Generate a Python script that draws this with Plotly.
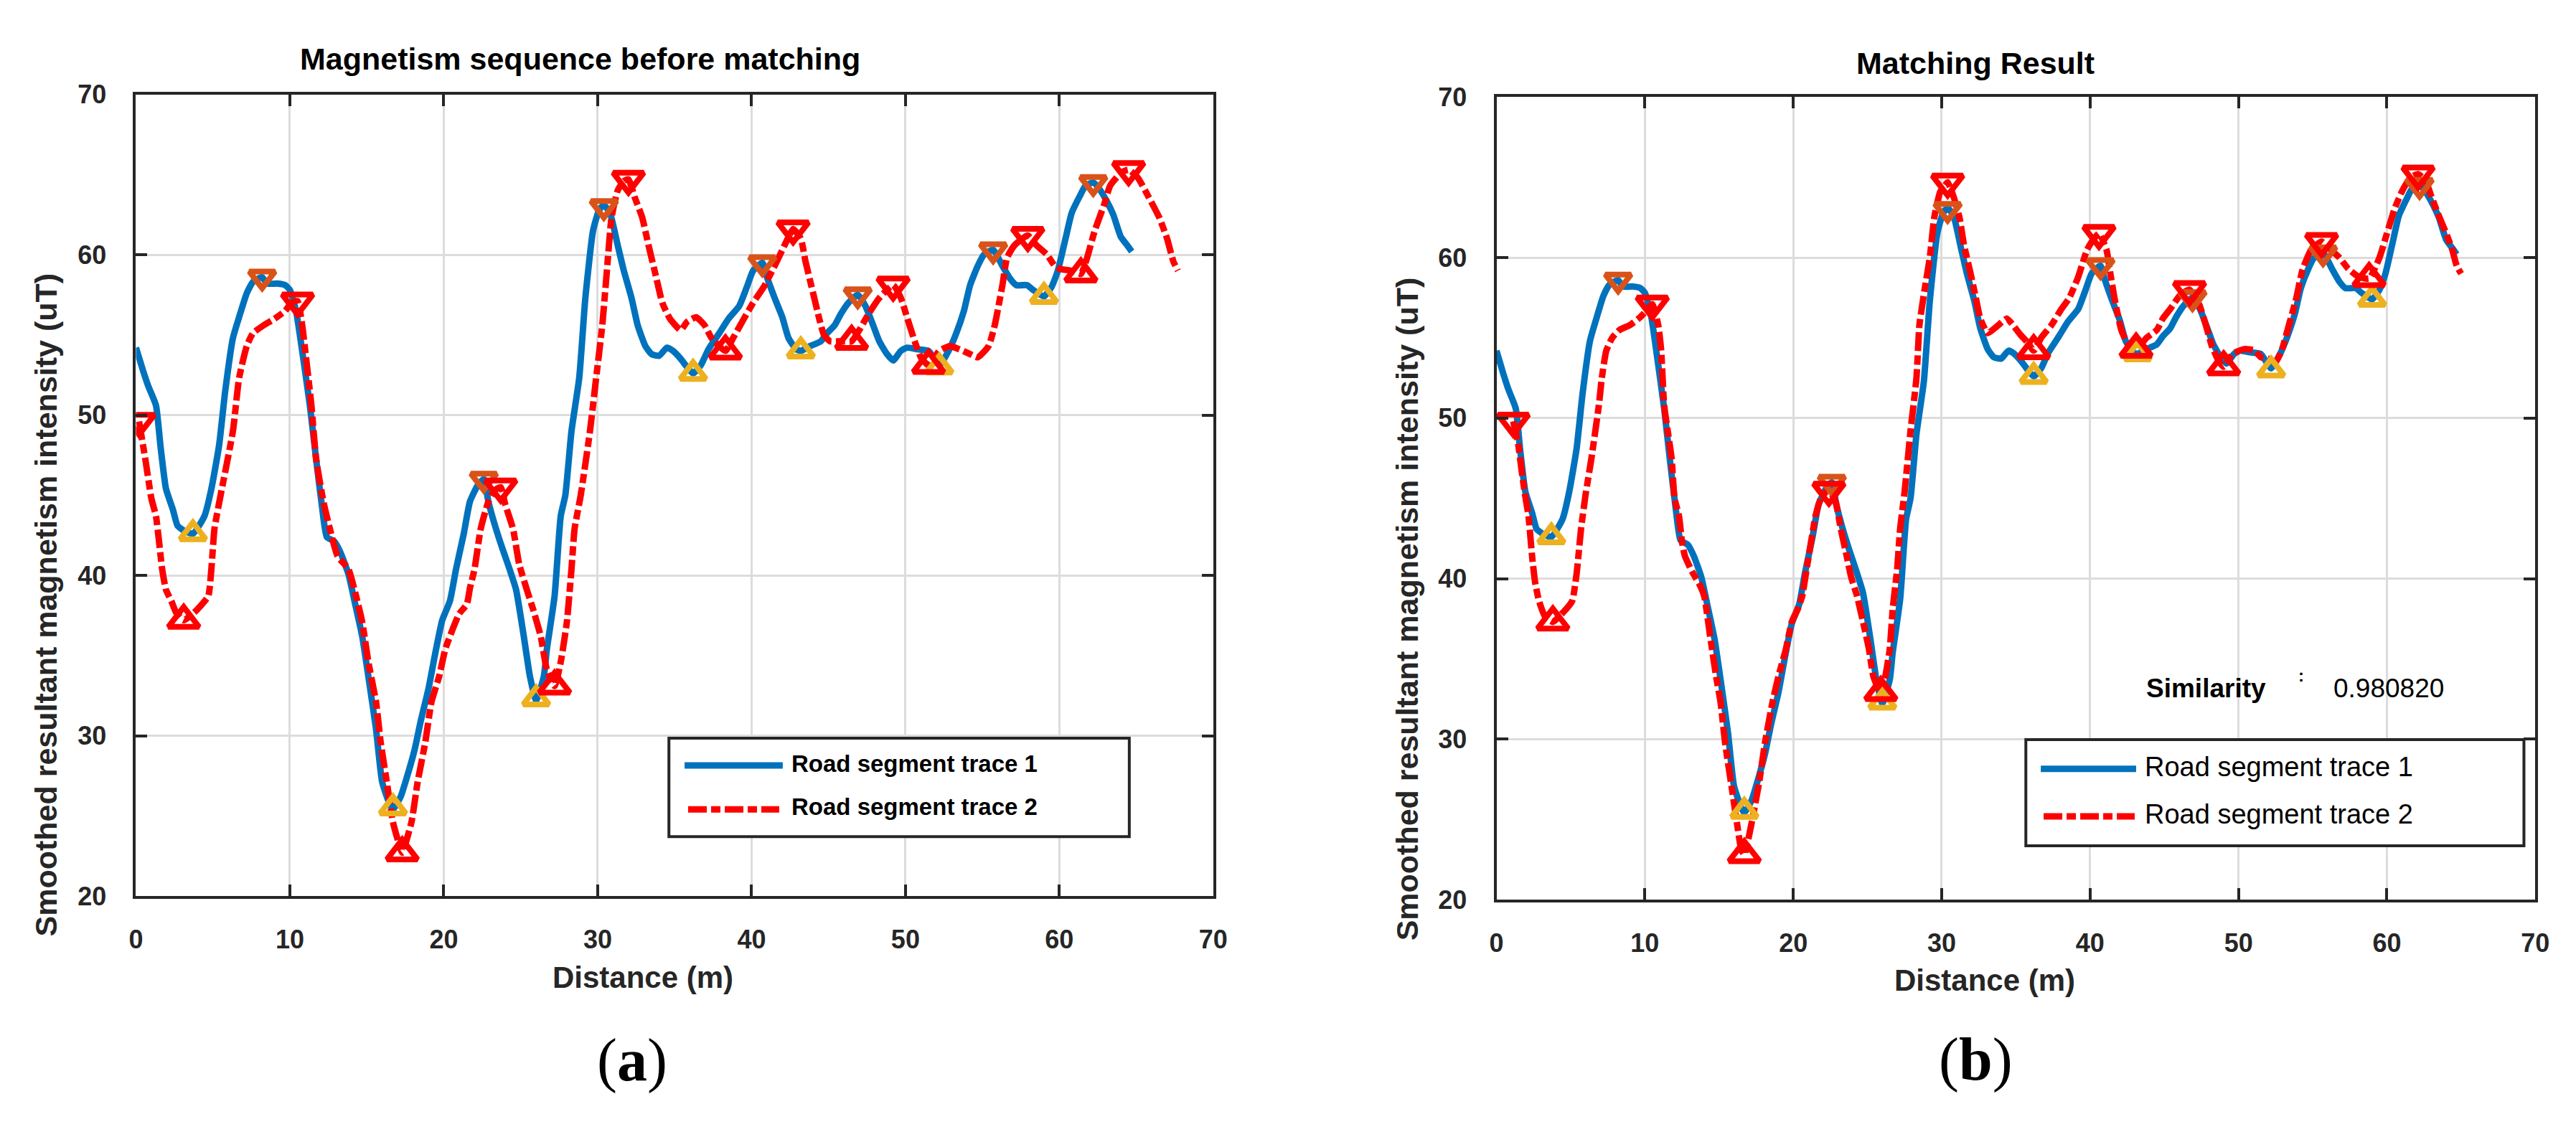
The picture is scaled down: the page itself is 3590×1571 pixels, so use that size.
import plotly.graph_objects as go

# --- data ---------------------------------------------------------------
# road segment trace 1 (same in both panels)
t1_x = [0, 0.45, 0.8, 1.3, 1.6, 1.95, 2.4, 2.7, 3.1, 3.7, 4.45, 4.9, 5.4, 5.8, 6.3, 6.7,
        7.2, 7.6, 8.2, 8.5, 9.2, 9.7, 10.0, 10.4, 10.8, 11.3, 11.7, 12.1, 12.4, 12.9,
        13.3, 13.8, 14.2, 14.7, 15.1, 15.6, 16.0, 16.5, 16.7, 17.2, 17.6, 18.1, 18.5,
        19.0, 19.5, 19.9, 20.4, 20.8, 21.3, 21.7, 22.2, 22.6, 22.9, 23.3, 23.8, 24.2,
        24.7, 25.2, 25.6, 26.0, 26.5, 26.7, 27.2, 27.6, 27.9, 28.3, 28.8, 29.2, 29.7,
        30.1, 30.4, 30.8, 31.3, 31.7, 32.2, 32.6, 33.1, 33.5, 34.0, 34.5, 34.9, 35.4,
        35.8, 36.2, 36.7, 37.2, 37.9, 38.5, 39.2, 39.7, 40.1, 40.7, 41.0, 41.5, 42.0,
        42.4, 42.9, 43.2, 43.8, 44.5, 44.9, 45.4, 45.8, 46.3, 46.9, 47.4, 47.9, 48.3,
        48.8, 49.2, 49.7, 50.1, 50.8, 51.5, 52.2, 52.8, 53.3, 53.8, 54.2, 54.7, 55.1,
        55.7, 56.3, 56.8, 57.2, 57.9, 58.3, 59.0, 59.5, 59.9, 60.4, 60.8, 61.3, 61.7,
        62.2, 62.6, 63.1, 63.5, 64.0, 64.4, 64.7]
t1_y = [54.2, 52.8, 51.8, 50.6, 48.0, 45.4, 44.1, 43.1, 42.8, 42.6, 43.7, 45.4, 48.1, 51.5,
        54.8, 56.1, 57.6, 58.3, 58.6, 58.2, 58.2, 58.1, 57.8, 56.5, 54.0, 50.6, 47.3,
        44.2, 42.4, 42.1, 41.4, 40.1, 38.4, 36.2, 33.7, 30.4, 27.1, 25.7, 25.4, 26.2,
        27.4, 29.1, 30.9, 32.9, 35.4, 37.2, 38.4, 40.4, 42.6, 44.6, 45.6, 46.0, 44.6,
        43.2, 41.7, 40.6, 39.1, 36.2, 33.7, 32.2, 33.7, 35.4, 38.7, 43.7, 45.0, 49.0,
        52.3, 57.3, 61.5, 62.8, 63.1, 62.6, 60.6, 59.0, 57.3, 55.6, 54.3, 53.8, 53.7,
        54.2, 54.0, 53.5, 53.0, 52.6, 53.1, 54.1, 55.1, 56.0, 56.8, 58.0, 59.0, 59.5,
        58.6, 57.3, 56.1, 54.8, 54.1, 54.0, 54.3, 54.6, 55.1, 55.6, 56.3, 57.0, 57.5,
        56.8, 55.6, 54.6, 53.8, 53.4, 54.0, 54.2, 54.1, 54.0, 53.1, 54.0, 55.1, 56.5,
        58.1, 59.3, 60.0, 60.3, 59.3, 58.5, 58.1, 58.1, 57.8, 57.4, 58.0, 59.0, 61.0,
        62.6, 63.6, 64.3, 64.5, 64.1, 63.3, 62.5, 61.1, 60.6, 60.2]

# road segment trace 2, before matching (panel a)
t2a_x = [0.2, 0.6, 1.0, 1.3, 1.5, 1.7, 1.95, 2.3, 2.6, 3.1, 3.8, 4.2, 4.7, 4.9, 5.1, 5.5,
         6.3, 6.7, 7.2, 7.6, 8.3, 9.0, 9.7, 10.1, 10.5, 10.8, 11.0, 11.4, 11.7, 12.2,
         12.6, 13.1, 13.8, 14.2, 14.7, 15.1, 15.6, 15.9, 16.3, 16.7, 17.2, 17.3, 17.9,
         18.3, 18.8, 19.2, 19.7, 20.1, 20.6, 21.0, 21.5, 21.7, 22.0, 22.4, 22.9, 23.3,
         23.7, 24.0, 24.5, 24.9, 25.4, 25.8, 26.3, 26.7, 27.2, 27.6, 28.0, 28.3, 28.5,
         28.9, 29.5, 29.9, 30.3, 30.6, 30.9, 31.3, 31.7, 32.0, 32.4, 32.9, 33.3, 33.8,
         34.2, 34.7, 35.4, 35.8, 36.4, 36.95, 37.4, 38.3, 38.8, 39.5, 40.1, 40.8, 41.5,
         42.0, 42.4, 42.7, 43.2, 43.5, 44.0, 44.4, 44.7, 45.1, 45.8, 46.5, 47.0, 47.6,
         48.3, 49.2, 49.7, 50.1, 50.6, 51.0, 51.5, 52.2, 52.9, 53.5, 54.2, 54.7, 55.4,
         55.8, 56.3, 56.6, 57.1, 57.95, 58.5, 59.2, 59.7, 60.1, 60.8, 61.4, 61.8, 62.3,
         62.9, 63.3, 64.0, 64.5, 65.1, 65.8, 66.5, 67.0, 67.4, 67.7]
t2a_y = [49.6, 47.3, 44.8, 43.7, 42.1, 40.4, 39.1, 38.4, 37.7, 37.2, 37.7, 38.1, 38.7, 40.4,
         42.9, 45.0, 49.0, 52.3, 54.3, 55.1, 55.6, 56.0, 56.5, 57.0, 57.1, 55.6, 54.0,
         50.6, 47.3, 44.5, 42.9, 41.2, 40.4, 39.1, 37.1, 34.6, 32.1, 29.6, 27.1, 24.6,
         22.9, 22.7, 24.6, 27.1, 29.6, 32.1, 33.7, 35.4, 36.7, 37.6, 38.2, 39.2, 40.4,
         42.9, 44.6, 45.3, 45.5, 44.4, 42.9, 40.7, 39.1, 37.9, 36.2, 34.1, 33.1, 34.6,
         37.1, 40.4, 42.9, 45.0, 49.0, 52.3, 55.6, 59.0, 62.3, 64.0, 64.6, 64.7, 63.6,
         62.3, 60.6, 58.6, 57.0, 56.0, 55.3, 55.8, 56.1, 55.6, 54.8, 54.0, 54.8, 56.0,
         57.0, 58.0, 59.3, 60.3, 61.1, 61.6, 61.0, 59.6, 57.6, 56.0, 55.0, 54.6, 54.6,
         54.6, 55.3, 56.3, 57.3, 58.1, 57.3, 56.1, 54.6, 53.6, 53.1, 54.0, 54.3, 54.1,
         53.8, 53.6, 54.3, 55.6, 58.1, 59.8, 60.6, 61.2, 60.6, 60.0, 59.3, 59.1, 59.0,
         58.8, 59.8, 61.5, 63.1, 64.3, 65.1, 65.3, 64.8, 63.6, 62.3, 61.0, 59.6, 59.0]

# road segment trace 2, after matching (panel b)
t2b_x = [1.13, 1.46, 1.7, 1.93, 2.16, 2.4, 2.6, 2.87, 3.3, 3.8, 4.5, 5.1, 5.4, 5.7, 6.0,
         6.4, 6.9, 7.1, 7.4, 7.8, 8.3, 9.0, 9.7, 10.2, 10.5, 10.9, 11.1, 11.3, 11.8,
         12.0, 12.3, 12.5, 12.7, 13.2, 13.7, 14.0, 14.4, 14.8, 15.1, 15.4, 15.8, 16.2,
         16.5, 16.7, 17.2, 17.7, 18.1, 18.6, 19.0, 19.5, 19.9, 20.3, 20.6, 20.9, 21.2,
         21.5, 21.9, 22.4, 22.85, 23.2, 23.6, 23.9, 24.3, 24.7, 25.1, 25.4, 25.9, 26.2,
         26.5, 26.7, 27.0, 27.2, 27.5, 27.9, 28.3, 28.5, 28.9, 29.2, 29.5, 29.9, 30.3,
         30.4, 30.8, 31.2, 31.5, 31.9, 32.3, 32.6, 33.1, 33.7, 34.4, 34.8, 35.3, 35.8,
         36.2, 36.7, 37.4, 38.0, 38.6, 39.2, 39.8, 40.2, 40.6, 41.1, 41.4, 41.7, 42.1,
         42.5, 43.1, 43.8, 44.5, 44.9, 45.4, 46.1, 46.7, 47.3, 47.8, 48.2, 48.7, 49.0,
         49.6, 50.4, 51.1, 51.5, 52.0, 52.5, 52.9, 53.4, 53.9, 54.3, 54.9, 55.6, 56.2,
         56.8, 57.4, 58.1, 58.8, 59.5, 60.0, 60.5, 61.0, 61.6, 62.1, 62.6, 63.0, 63.5,
         64.0, 64.4, 64.7, 65.0]
t2b_y = [49.8, 48.4, 46.7, 45.2, 43.9, 41.4, 39.8, 38.6, 37.6, 37.3, 37.9, 38.6, 40.3, 43.1,
         45.2, 47.5, 50.8, 52.5, 54.2, 55.0, 55.5, 55.8, 56.3, 56.8, 57.1, 55.8, 54.2,
         50.8, 47.5, 45.0, 43.9, 42.3, 41.4, 40.4, 39.6, 38.9, 36.4, 33.9, 32.3, 29.8,
         27.3, 24.8, 23.1, 22.8, 24.8, 27.3, 29.8, 32.3, 33.9, 35.6, 37.3, 38.1, 38.9,
         40.6, 42.3, 43.9, 45.1, 45.5, 44.8, 43.1, 41.4, 40.1, 38.9, 37.3, 35.6, 33.9,
         32.9, 33.9, 35.6, 38.1, 40.6, 43.1, 45.4, 49.2, 52.5, 55.8, 58.3, 60.0, 62.5,
         64.1, 64.6, 64.7, 63.8, 62.5, 60.8, 59.2, 57.5, 56.2, 55.3, 55.7, 56.2, 55.8,
         55.2, 54.7, 54.2, 55.0, 55.8, 56.7, 57.5, 58.8, 60.5, 61.1, 61.5, 60.5, 58.8,
         57.2, 55.5, 54.7, 54.3, 55.0, 55.5, 56.2, 56.8, 57.7, 58.0, 57.2, 55.8, 54.5,
         53.5, 53.2, 54.0, 54.3, 54.2, 53.8, 53.7, 53.5, 54.2, 55.8, 57.5, 59.2, 60.5,
         61.0, 60.5, 60.0, 59.3, 58.8, 58.7, 60.0, 61.5, 63.0, 64.1, 65.0, 65.2, 64.8,
         63.8, 62.6, 61.5, 60.5, 59.5, 59.0]

# detected peaks / valleys
t1_peak_x = [8.2, 22.6, 30.4, 40.7, 46.9, 55.7, 62.2]
t1_peak_y = [58.6, 46.0, 63.0, 59.5, 57.5, 60.3, 64.5]
t1_val_x = [3.7, 16.7, 26.0, 36.2, 43.2, 52.2, 59.0]
t1_val_y = [42.6, 25.5, 32.3, 52.6, 54.0, 53.0, 57.4]

t2a_peak_x = [0.2, 10.5, 23.7, 32.0, 42.7, 49.2, 57.95, 64.5]
t2a_peak_y = [49.6, 57.1, 45.5, 64.7, 61.6, 58.1, 61.2, 65.3]
t2a_val_x = [3.1, 17.3, 27.2, 38.3, 46.5, 51.5, 61.4]
t2a_val_y = [37.2, 22.7, 33.1, 54.0, 54.6, 53.1, 58.8]

t2b_peak_x = [1.13, 10.5, 22.4, 30.4, 40.6, 46.7, 55.6, 62.1]
t2b_peak_y = [49.8, 57.1, 45.5, 64.7, 61.5, 58.0, 61.0, 65.2]
t2b_val_x = [3.8, 16.7, 25.9, 36.2, 43.1, 49.0, 58.8]
t2b_val_y = [37.3, 22.8, 32.9, 54.2, 54.3, 53.2, 58.7]

x_ticks = [0, 10, 20, 30, 40, 50, 60, 70]
y_ticks = [20, 30, 40, 50, 60, 70]
similarity = 0.980820

# --- styling ---------------------------------------------------------------
W, H = 3590, 1571
BLUE, RED, ORANGE, YELLOW = '#0072BD', '#FF0000', '#D95319', '#EDB120'
INK = '#262626'
SANS = 'Liberation Sans, Arial, sans-serif'
SERIF = 'Liberation Serif, Times New Roman, serif'
RED_DASH = '26px,6px,13px,6px'
LW = 9


def px(x):
    return x / W


def py(y):
    return 1 - y / H


fig = go.Figure()

panels = [('x', 'y', t2a_x, t2a_y, t2a_peak_x, t2a_peak_y, t2a_val_x, t2a_val_y),
          ('x2', 'y2', t2b_x, t2b_y, t2b_peak_x, t2b_peak_y, t2b_val_x, t2b_val_y)]

for xa, ya, bx, by, pkx, pky, vlx, vly in panels:
    fig.add_trace(go.Scatter(x=t1_x, y=t1_y, mode='lines', xaxis=xa, yaxis=ya,
                             line=dict(color=BLUE, width=LW, shape='spline', smoothing=0.5),
                             showlegend=False))
    fig.add_trace(go.Scatter(x=bx, y=by, mode='lines', xaxis=xa, yaxis=ya,
                             line=dict(color=RED, width=LW, dash=RED_DASH, shape='spline',
                                       smoothing=0.5),
                             showlegend=False))
    # markers: open triangles with heavy outlines
    for mx, my, sym, size, col in [(t1_peak_x, t1_peak_y, 'triangle-down-open', 31, ORANGE),
                                   (t1_val_x, t1_val_y, 'triangle-up-open', 31, YELLOW),
                                   (pkx, pky, 'triangle-down-open', 37, RED),
                                   (vlx, vly, 'triangle-up-open', 37, RED)]:
        fig.add_trace(go.Scatter(x=mx, y=my, mode='markers', xaxis=xa, yaxis=ya,
                                 marker=dict(symbol=sym, size=size, color=col,
                                             line=dict(width=8, color=col)),
                                 showlegend=False))

axis_common = dict(showline=True, linecolor=INK, linewidth=4, mirror='ticks',
                   ticks='inside', ticklen=16, tickwidth=4, tickcolor=INK,
                   showgrid=True, gridcolor='#DCDCDC', gridwidth=3, zeroline=False,
                   tickfont=dict(family=SANS, size=36, color=INK, weight='bold'))

fig.update_layout(
    width=W, height=H,
    margin=dict(l=0, r=0, t=0, b=0),
    paper_bgcolor='white', plot_bgcolor='white',
    showlegend=False,
    xaxis=dict(domain=[px(181), px(1695)], range=[0, 70], tickvals=x_ticks,
               anchor='y', ticklabelstandoff=26, **axis_common),
    yaxis=dict(domain=[py(1262), py(114.5)], range=[20, 70], tickvals=y_ticks,
               anchor='x', ticklabelstandoff=30, **axis_common),
    xaxis2=dict(domain=[px(2093), px(3553)], range=[0, 70], tickvals=x_ticks,
                anchor='y2', ticklabelstandoff=26, **axis_common),
    yaxis2=dict(domain=[py(1267), py(118.5)], range=[20, 70], tickvals=y_ticks,
                anchor='x2', ticklabelstandoff=30, **axis_common),
)


def label(text, x, y, size, weight='bold', family=SANS, angle=0, xanchor='center',
          color=INK):
    fig.add_annotation(text=text, x=px(x), y=py(y), xref='paper', yref='paper',
                       showarrow=False, textangle=angle, xanchor=xanchor, yanchor='middle',
                       font=dict(family=family, size=size, color=color, weight=weight))


# titles, axis titles, panel tags
label('Magnetism sequence before matching', 805, 64, 43, color='black')
label('Matching Result', 2766, 69.5, 43, color='black')
label('Distance (m)', 893, 1378, 42)
label('Distance (m)', 2779, 1383, 42)
label('Smoothed resultant magnetism intensity (uT)', 54, 845, 43, angle=-90)
label('Smoothed resultant magnetism intensity (uT)', 1967, 851, 43, angle=-90)
label('(<b>a</b>)', 878, 1497, 84, weight='normal', family=SERIF, color='black')
label('(<b>b</b>)', 2767, 1496, 84, weight='normal', family=SERIF, color='black')

# similarity readout
label('Similarity', 3004, 965, 37, weight='bold', xanchor='left', color='black')
label(':', 3224, 946, 24, weight='bold', color='black')
label(f'{similarity:.6f}', 3267, 965, 37, weight='normal', xanchor='left', color='black')

# hand-placed legend boxes (MATLAB style)
legends = [
    dict(box=(930, 1036, 1577, 1177), blue=(952, 1090, 1075), red=(957, 1085, 1138),
         tx=1100, ty=(1072, 1134.5), size=33, weight='bold'),
    dict(box=(2837, 1038, 3537, 1190), blue=(2858, 2992, 1080), red=(2862, 2990, 1148),
         tx=3002, ty=(1077, 1145), size=38, weight='normal'),
]
for lg in legends:
    x0, y0, x1, y1 = lg['box']
    fig.add_shape(type='rect', xref='paper', yref='paper', x0=px(x0), y0=py(y0),
                  x1=px(x1), y1=py(y1), line=dict(color=INK, width=4),
                  fillcolor='white', layer='above')
    bx0, bx1, by_ = lg['blue']
    fig.add_shape(type='line', xref='paper', yref='paper', x0=px(bx0), x1=px(bx1),
                  y0=py(by_), y1=py(by_), line=dict(color=BLUE, width=LW), layer='above')
    rx0, rx1, ry = lg['red']
    fig.add_shape(type='line', xref='paper', yref='paper', x0=px(rx0), x1=px(rx1),
                  y0=py(ry), y1=py(ry), line=dict(color=RED, width=LW, dash=RED_DASH),
                  layer='above')
    label('Road segment trace 1', lg['tx'], lg['ty'][0], lg['size'], weight=lg['weight'],
          xanchor='left', color='black')
    label('Road segment trace 2', lg['tx'], lg['ty'][1], lg['size'], weight=lg['weight'],
          xanchor='left', color='black')

fig.write_html("out.html", config={'displayModeBar': False},
               post_script="document.body.style.margin='0px';"
                           "document.body.style.overflow='hidden';")
